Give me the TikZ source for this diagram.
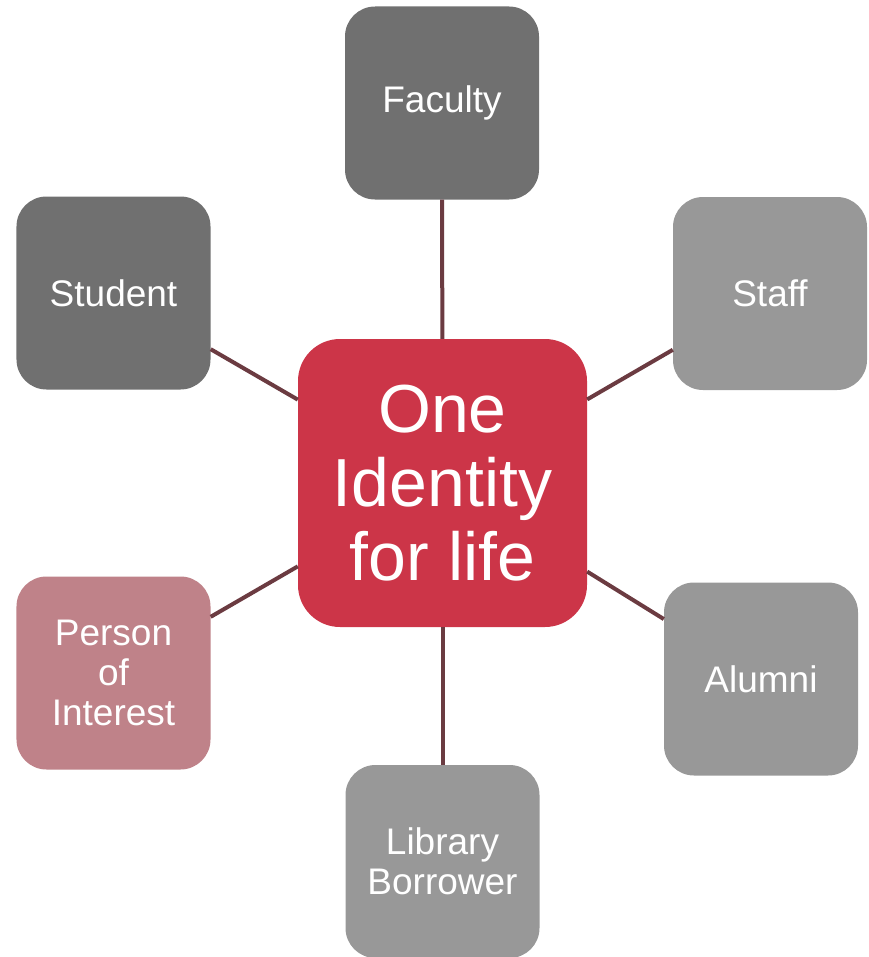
\documentclass[tikz,border=0pt]{standalone}
\usepackage{fontspec}
\setmainfont{Liberation Sans}
\definecolor{darkbox}{HTML}{707070}
\definecolor{lightbox}{HTML}{989898}
\definecolor{redbox}{HTML}{CC3548}
\definecolor{pinkbox}{HTML}{BF8289}
\definecolor{linkcol}{HTML}{6B3B41}
\begin{document}
\begin{tikzpicture}[x=1bp,y=-1bp,
  role/.style={rectangle, rounded corners=30bp, minimum width=194bp, minimum height=193bp,
    inner sep=0pt, text=white, align=center, font=\fontsize{37bp}{40bp}\selectfont},
  hub/.style={rectangle, rounded corners=42bp, minimum width=289bp, minimum height=288bp,
    inner sep=0pt, fill=redbox, text=white, align=center, font=\fontsize{68bp}{74bp}\selectfont},
  link/.style={draw=linkcol, line width=4bp}]
\useasboundingbox (0,0) rectangle (869,957);
\node[hub] (core) at (442.5,483) {One\\Identity\\for life};
\node[role, fill=darkbox] (faculty) at (442,103) {Faculty};
\node[role, fill=darkbox] (student) at (113.5,293) {Student};
\node[role, fill=lightbox] (staff) at (770,293.5) {Staff};
\node[role, fill=pinkbox] (poi) at (113.5,673) {Person\\of\\Interest};
\node[role, fill=lightbox] (alumni) at (761,679) {Alumni};
\node[role, fill=lightbox] (library) at (442.5,861.5) {Library\\Borrower};
\draw[link] (faculty) -- (core);
\draw[link] (student) -- (core);
\draw[link] (staff) -- (core);
\draw[link] (poi) -- (core);
\draw[link] (alumni) -- (core);
\draw[link] (library) -- (core);
\end{tikzpicture}
\end{document}
